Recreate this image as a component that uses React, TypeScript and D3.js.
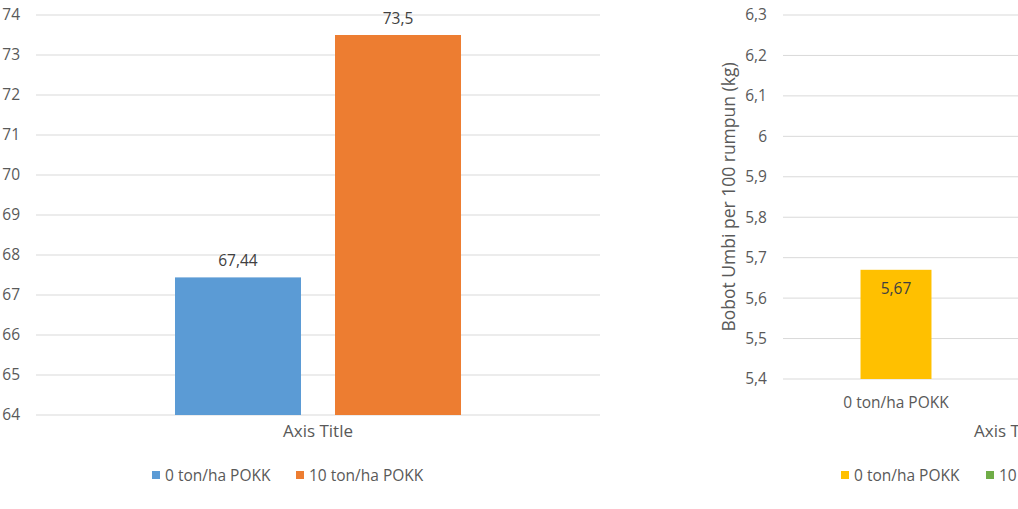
import * as d3 from 'd3';
import React from 'react';

// left chart: one category, two series
const leftSeries = ['0 ton/ha POKK', '10 ton/ha POKK'];
const leftValues = [67.44, 73.5];
const leftColors = ['#5B9BD5', '#ED7D31'];
const leftDomain: [number, number] = [64, 74];

// right chart: bars per category (second one runs off the picture)
const rightCategories = ['0 ton/ha POKK', '10 ton/ha POKK'];
const rightValues = [5.67, 6.1];
const rightColors = ['#FFC000', '#70AD47'];
const rightDomain: [number, number] = [5.4, 6.3];
const rightYTitle = 'Bobot Umbi per 100 rumpun (kg)';

const locale = d3.formatLocale({ decimal: ',', thousands: '.', grouping: [3], currency: ['', ''] });
const fmt = (v: number) => locale.format('~g')(+v.toFixed(2));

const FONT = '"Open Sans", "Noto Sans", sans-serif';
const GRID = '#d9d9d9';
const TXT = '#595959';
const FS = 15.5;

const LeftChart: React.FC = () => {
  const y = d3.scaleLinear().domain(leftDomain).range([415, 15]);
  const x0 = d3.scaleBand().domain(['']).range([36, 600]).paddingInner(0).paddingOuter(0.486);
  const x1 = d3.scaleBand().domain(leftSeries).range([0, x0.bandwidth()]).paddingInner(0.2125);
  const ticks = y.ticks(10);
  return (
    <g>
      {ticks.map((t) => (
        <g key={t}>
          <line x1={36} x2={600} y1={y(t)} y2={y(t)} stroke={GRID} strokeWidth={1} />
          <text x={20} y={y(t)} dy="0.35em" textAnchor="end" fontSize={FS} fill={TXT}>
            {fmt(t)}
          </text>
        </g>
      ))}
      {leftSeries.map((s, i) => {
        const bx = (x0('') ?? 0) + (x1(s) ?? 0);
        return (
          <g key={s}>
            <rect x={bx} y={y(leftValues[i])} width={x1.bandwidth()} height={y(leftDomain[0]) - y(leftValues[i])} fill={leftColors[i]} />
            <text x={bx + x1.bandwidth() / 2} y={y(leftValues[i]) - 11} textAnchor="middle" fontSize={FS} fill="#404040">
              {fmt(leftValues[i])}
            </text>
          </g>
        );
      })}
      <text x={318} y={437} textAnchor="middle" fontSize={17} fill={TXT}>Axis Title</text>
      {leftSeries.map((s, i) => {
        const lx = [152, 296][i];
        return (
          <g key={'lg' + s}>
            <rect x={lx} y={471} width={8} height={8} fill={leftColors[i]} />
            <text x={lx + 13} y={480.5} fontSize={FS} fill={TXT}>{s}</text>
          </g>
        );
      })}
    </g>
  );
};

const RightChart: React.FC = () => {
  const y = d3.scaleLinear().domain(rightDomain).range([379, 15]);
  const x = d3.scaleBand().domain(rightCategories).range([783, 1235]).paddingInner(0.686).paddingOuter(0.343);
  const ticks = y.ticks(10);
  return (
    <g>
      {ticks.map((t) => (
        <g key={t}>
          <line x1={783} x2={1235} y1={y(t)} y2={y(t)} stroke={GRID} strokeWidth={1} />
          <text x={767} y={y(t)} dy="0.35em" textAnchor="end" fontSize={FS} fill={TXT}>
            {fmt(t)}
          </text>
        </g>
      ))}
      <text transform="translate(735,197) rotate(-90)" textAnchor="middle" fontSize={17.5} fill={TXT}>
        {rightYTitle}
      </text>
      {rightCategories.map((c, i) => {
        const bx = x(c) ?? 0;
        const cx = bx + x.bandwidth() / 2;
        return (
          <g key={c}>
            <rect x={bx} y={y(rightValues[i])} width={x.bandwidth()} height={y(rightDomain[0]) - y(rightValues[i])} fill={rightColors[i]} />
            <text x={cx} y={y(rightValues[i]) + 19} dy="0.35em" textAnchor="middle" fontSize={FS} fill="#404040">
              {fmt(rightValues[i])}
            </text>
            <text x={cx} y={403} dy="0.35em" textAnchor="middle" fontSize={FS} fill={TXT}>{c}</text>
          </g>
        );
      })}
      <text x={1009} y={437} textAnchor="middle" fontSize={17} fill={TXT}>Axis Title</text>
      {rightCategories.map((c, i) => {
        const lx = [841, 986][i];
        return (
          <g key={'lg' + c}>
            <rect x={lx} y={471} width={8} height={8} fill={rightColors[i]} />
            <text x={lx + 13} y={480.5} fontSize={FS} fill={TXT}>{c}</text>
          </g>
        );
      })}
    </g>
  );
};

const App: React.FC = () => (
  <>
    <style>{'body{margin:0;overflow:hidden;}'}</style>
    <svg width={1018} height={509} style={{ display: 'block', background: '#fff', fontFamily: FONT }}>
      <LeftChart />
      <RightChart />
    </svg>
  </>
);

export default App;
